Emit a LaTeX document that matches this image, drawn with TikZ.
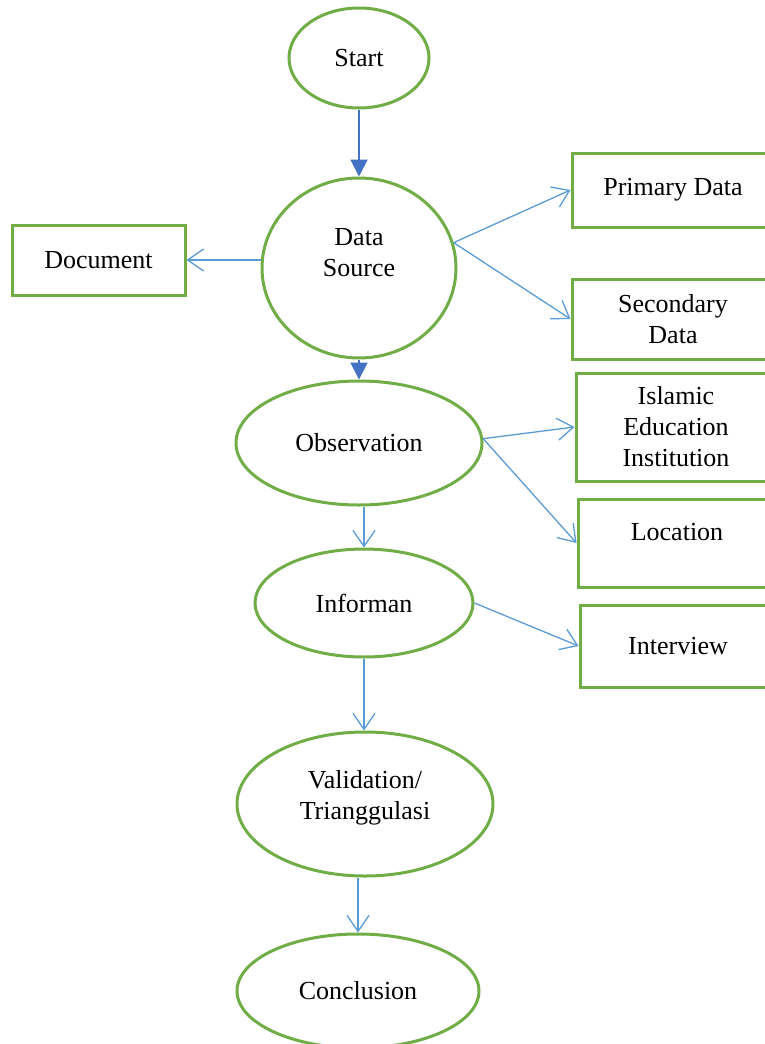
\documentclass[tikz,border=0pt]{standalone}
\usepackage{fontspec}
\setmainfont{Liberation Serif}
\usetikzlibrary{shapes.geometric,arrows.meta}
\definecolor{grn}{HTML}{70AD47}
\definecolor{lblue}{HTML}{5B9BD5}
\definecolor{dblue}{HTML}{4472C4}
\begin{document}
\begin{tikzpicture}[x=1pt,y=-1pt,
  every node/.style={font=\fontsize{26}{31}\selectfont, align=center, text=black},
  ell/.style={draw=grn, line width=3pt, ellipse, inner sep=0pt},
  box/.style={draw=grn, line width=3pt, rectangle, inner sep=0pt},
  thinarrow/.style={draw=lblue, line width=1.3pt, -{Straight Barb[length=16pt,width=22pt]}},
  thickarrow/.style={draw=dblue, line width=2pt, -{Triangle[length=17pt,width=17pt]}}
]
\useasboundingbox (0,0) rectangle (765,1044);
\clip (0,0) rectangle (765,1044);

\node[ell, minimum width=140pt, minimum height=100pt] (start) at (359,58) {Start};
\node[ell, minimum width=194pt, minimum height=180pt] (ds) at (359,268) {};
\node (dst) at (359,253) {Data\\Source};
\node[box, minimum width=173pt, minimum height=70pt] (doc) at (98.5,260) {Document};
\node[box, minimum width=202pt, minimum height=74pt] (prim) at (673,190) {Primary Data};
\node[box, minimum width=202pt, minimum height=80pt] (sec) at (673,319) {Secondary\\Data};
\node[ell, minimum width=246pt, minimum height=124pt] (obs) at (359,443) {Observation};
\node[box, minimum width=200pt, minimum height=108pt] (isl) at (676,427) {Islamic\\Education\\Institution};
\node[box, minimum width=198pt, minimum height=88pt] (loc) at (677,543) {};
\node (loct) at (677,532) {Location};
\node[ell, minimum width=218pt, minimum height=108pt] (inf) at (364,603) {Informan};
\node[box, minimum width=196pt, minimum height=82pt] (int) at (678,646) {Interview};
\node[ell, minimum width=256pt, minimum height=144pt] (val) at (365,804) {};
\node (valt) at (365,798) {Validation/\\Trianggulasi};
\node[ell, minimum width=242pt, minimum height=114pt] (conc) at (358,991) {Conclusion};

\draw[thickarrow] (start) -- (ds);
\draw[thickarrow] (ds) -- (obs);
\draw[thinarrow] (ds.west |- doc.east) -- (doc.east);
\draw[thinarrow] (ds.15) -- (prim.west);
\draw[thinarrow] (ds.15) -- (sec.west);
\draw[thinarrow] (obs.2) -- (isl.west);
\draw[thinarrow] (obs.2) -- (loc.west);
\draw[thinarrow] (inf.north |- obs.south) -- (inf.north);
\draw[thinarrow] (inf.east) -- (int.west);
\draw[thinarrow] (inf.south) -- (inf.south |- val.north);
\draw[thinarrow] (val.south -| conc.north) -- (conc.north);
\end{tikzpicture}
\end{document}
